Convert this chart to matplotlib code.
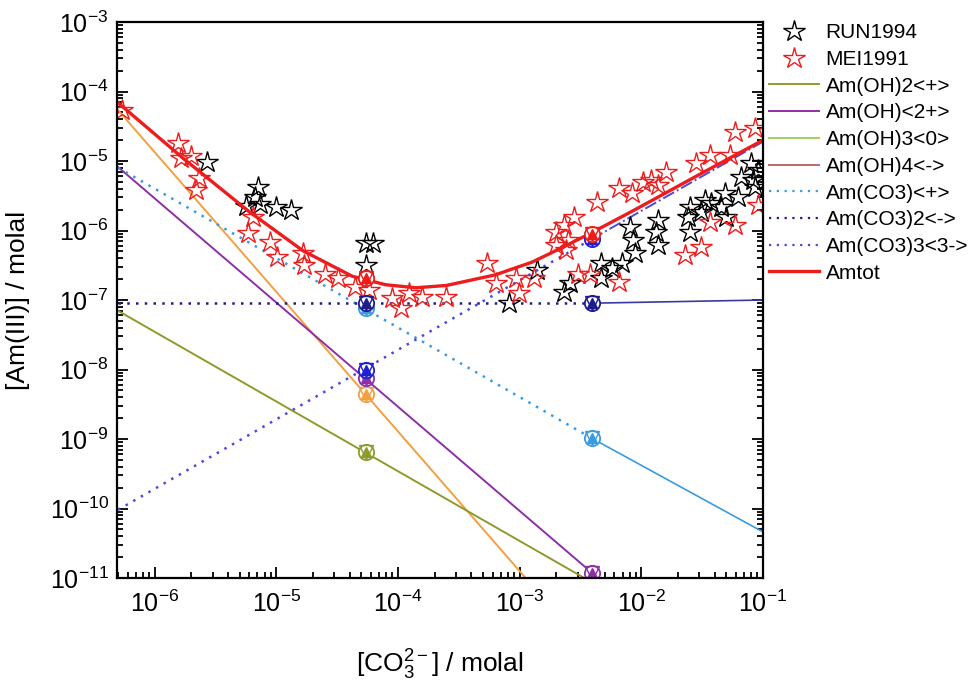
import numpy as np
import matplotlib.pyplot as plt
from matplotlib.lines import Line2D

plt.rcParams['font.family'] = ['Liberation Sans', 'DejaVu Sans']
plt.rcParams['mathtext.fontset'] = 'custom'
plt.rcParams['mathtext.rm'] = 'Liberation Sans'
plt.rcParams['mathtext.it'] = 'Liberation Sans'

# measured data, RUN1994 (black stars)
run_x = [2.7e-6, 7.1e-6, 6.7e-6, 5.6e-6, 7.3e-6, 1.0e-5, 1.33e-5,
         5.5e-5, 6.2e-5, 5.5e-5,
         8.1e-4, 1.38e-3, 2.3e-3, 2.6e-3, 4.7e-3, 4.7e-3, 5.7e-3, 6.9e-3,
         8.1e-3, 8.6e-3, 8.9e-3, 1.33e-2, 1.38e-2, 1.38e-2, 2.5e-2, 2.4e-2,
         2.5e-2, 3.35e-2, 3.1e-2, 3.75e-2, 4.9e-2, 4.5e-2, 5.0e-2, 6.2e-2,
         6.6e-2, 8.0e-2, 8.3e-2, 8.6e-2, 9.1e-2]
run_y = [9.8e-6, 4.2e-6, 3.0e-6, 2.25e-6, 2.4e-6, 2.2e-6, 2.0e-6,
         6.6e-7, 6.6e-7, 3.2e-7,
         9.1e-8, 2.7e-7, 1.3e-7, 1.76e-7, 3.4e-7, 2.1e-7, 2.9e-7, 3.4e-7,
         1.12e-6, 7.3e-7, 4.7e-7, 9.5e-7, 1.42e-6, 6.2e-7, 2.2e-6, 1.56e-6,
         9.5e-7, 2.75e-6, 1.85e-6, 2.5e-6, 3.5e-6, 2.2e-6, 1.56e-6, 3.0e-6,
         5.9e-6, 9.4e-6, 5.3e-6, 4.2e-6, 7.4e-6]

# measured data, MEI1991 (red stars)
mei_x = [5.4e-7, 1.57e-6, 1.66e-6, 2.0e-6, 2.3e-6, 2.2e-6, 6.4e-6, 5.9e-6,
         8.8e-6, 1.02e-5, 1.66e-5, 1.7e-5, 2.5e-5, 3.2e-5, 4.4e-5, 5.8e-5,
         8.9e-5, 1.06e-4, 1.23e-4, 1.57e-4, 2.5e-4, 5.4e-4, 6.4e-4, 9.3e-4,
         9.8e-4, 1.3e-3, 1.97e-3, 2.3e-3, 2.8e-3, 2.0e-3, 2.5e-3, 2.4e-3,
         4.3e-3, 6.5e-3, 8.3e-3, 1.04e-2, 1.19e-2, 1.38e-2, 1.6e-2, 2.8e-2,
         3.7e-2, 5.4e-2, 5.9e-2, 8.6e-2, 9.1e-2, 3.7e-2, 5.9e-2, 2.3e-2,
         3.1e-2, 6.5e-3, 3.0e-3, 3.8e-3]
mei_y = [5.4e-5, 1.8e-5, 1.1e-5, 1.18e-5, 5.7e-6, 3.8e-6, 1.56e-6, 9.2e-7,
         6.8e-7, 4.2e-7, 4.7e-7, 3.2e-7, 2.4e-7, 2.1e-7, 1.54e-7, 1.39e-7,
         1.07e-7, 7.7e-8, 1.26e-7, 1.1e-7, 1.1e-7, 3.4e-7, 1.76e-7, 2.1e-7,
         1.26e-7, 2.1e-7, 9.5e-7, 1.2e-6, 1.56e-6, 6.2e-7, 7.3e-7, 5.2e-7,
         2.6e-6, 4.1e-6, 3.5e-6, 5.0e-6, 5.3e-6, 4.5e-6, 6.9e-6, 9.4e-6,
         1.22e-5, 1.22e-5, 2.6e-5, 3.0e-5, 2.3e-6, 1.32e-6, 1.2e-6, 4.4e-7,
         5.8e-7, 1.8e-7, 2.4e-7, 2.4e-7]

# model species lines
am3_x = [5e-7, 1.12e-3]
am3_y = [5.4e-5, 1e-11]
amoh2_x = [5e-7, 3.4e-3]
amoh2_y = [7e-8, 1e-11]
amoh_x = [5e-7, 3.9e-3]
amoh_y = [8.2e-6, 1.2e-11]
amco3_x = [5e-7, 3.9e-3, 1e-1]
amco3_y = [8e-6, 1.03e-9, 4.6e-11]
amco32_x = [5e-7, 3.9e-3, 1e-1]
amco32_y = [9e-8, 9e-8, 1e-7]
amco33_x = [5e-7, 3.9e-3, 1e-1]
amco33_y = [9.6e-11, 7.5e-7, 1.9e-5]
amtot_x = [4.9e-7, 1.74e-6, 6.0e-6, 1.66e-5, 4.2e-5, 7.9e-5, 1.4e-4,
           2.5e-4, 6.3e-4, 1.26e-3, 2.2e-3, 3.9e-3, 8.9e-3, 3.2e-2, 1e-1]
amtot_y = [7.1e-5, 1.07e-5, 1.86e-6, 5.1e-7, 2.2e-7, 1.66e-7, 1.5e-7,
           1.62e-7, 2.3e-7, 3.5e-7, 5.6e-7, 9.3e-7, 2.0e-6, 6.8e-6, 2.0e-5]

# model points at two carbonate concentrations
pt_x = [5.5e-5, 3.9e-3]
pt_amtot = [2.07e-7, 9.0e-7]
pt_amco33 = [1.0e-8, 7.5e-7]
pt_amco32 = [9e-8, 9e-8]
pt_amco3 = [7.8e-8, 1.03e-9]
pt_amoh = [7.5e-9, 1.2e-11]
pt_am3 = [4.5e-9, None]
pt_amoh2 = [6.5e-10, None]

c_olive = '#8f9a2c'
c_purple = '#8e2fa6'
c_lgreen = '#a5d05a'
c_rose = '#b86a6a'
c_lblue = '#3a9be0'
c_navy = '#1c1c8c'
c_violet = '#4a4ae0'
c_red = '#ee1c1c'
c_orange = '#f2a040'

fig = plt.figure(figsize=(9.73, 6.81), dpi=100)
ax = fig.add_axes([0.1202, 0.1512, 0.664, 0.8165])

ax.plot(am3_x, am3_y, color=c_orange, lw=1.4)
ax.plot(amoh2_x, amoh2_y, color=c_olive, lw=1.4)
ax.plot(amoh_x, amoh_y, color=c_purple, lw=1.4)
ax.plot(amco3_x[:2], amco3_y[:2], color=c_lblue, lw=1.8, ls=(0, (1, 2.5)))
ax.plot(amco3_x[1:], amco3_y[1:], color=c_lblue, lw=1.2)
ax.plot(amco32_x[:2], amco32_y[:2], color=c_navy, lw=1.8, ls=(0, (1, 2.5)))
ax.plot(amco32_x[1:], amco32_y[1:], color='#3a3aa0', lw=1.2)
ax.plot(amco33_x[:2], amco33_y[:2], color=c_violet, lw=1.8, ls=(0, (1, 2.5)))
ax.plot(amco33_x[1:], amco33_y[1:], color=c_violet, lw=1.4, ls='-.')

star = dict(marker='*', ms=16, mfc='none', mew=1.0, ls='none')
ax.plot(run_x, run_y, mec='black', **star)
ax.plot(mei_x, mei_y, mec=c_red, **star)

ax.plot(amtot_x, amtot_y, color=c_red, lw=2.4)


def model_pts(x, y, c):
    xs = [a for a, b in zip(x, y) if b is not None]
    ys = [b for b in y if b is not None]
    ax.plot(xs, ys, 'o', ms=11, mfc='white', mec=c, mew=1.3)
    ax.plot(xs, ys, 'v', ms=10, mfc='none', mec=c, mew=1.0)
    ax.plot(xs, ys, '^', ms=7, mfc=c, mec=c)


model_pts(pt_x, pt_amoh2, c_olive)
model_pts(pt_x, pt_am3, c_orange)
model_pts(pt_x, pt_amoh, c_purple)
model_pts(pt_x, pt_amco3, c_lblue)
model_pts(pt_x, pt_amco32, c_navy)
model_pts(pt_x, pt_amco33, '#2020d0')
model_pts(pt_x, pt_amtot, c_red)

ax.set_xscale('log')
ax.set_yscale('log')
ax.set_xlim(4.9e-7, 1e-1)
ax.set_ylim(1e-11, 1e-3)

ax.tick_params(which='both', direction='in', left=True, right=True,
               bottom=True, top=False, labelsize=18, width=1.3)
ax.tick_params(which='major', length=8)
ax.tick_params(which='minor', length=4)
ax.tick_params(axis='x', which='major', pad=9)
ax.tick_params(axis='y', which='major', pad=6)
for s in ax.spines.values():
    s.set_linewidth(1.6)

ax.set_xlabel(r'[CO$_3^{2-}$] / molal', fontsize=19, labelpad=22)
ax.set_ylabel('[Am(III)] / molal', fontsize=19, labelpad=14)

handles = [
    Line2D([], [], marker='*', ms=16, mfc='none', mec='black', ls='none'),
    Line2D([], [], marker='*', ms=16, mfc='none', mec=c_red, ls='none'),
    Line2D([], [], color=c_olive, lw=1.4),
    Line2D([], [], color=c_purple, lw=1.4),
    Line2D([], [], color=c_lgreen, lw=1.4),
    Line2D([], [], color=c_rose, lw=1.4),
    Line2D([], [], color=c_lblue, lw=1.6, ls=(0, (1, 2.5))),
    Line2D([], [], color=c_navy, lw=1.6, ls=(0, (1, 2.5))),
    Line2D([], [], color=c_violet, lw=1.6, ls=(0, (1, 2.5))),
    Line2D([], [], color=c_red, lw=2.4),
]
labels = ['RUN1994', 'MEI1991', 'Am(OH)2<+>', 'Am(OH)<2+>', 'Am(OH)3<0>',
          'Am(OH)4<->', 'Am(CO3)<+>', 'Am(CO3)2<->', 'Am(CO3)3<3->', 'Amtot']
fig.legend(handles, labels, loc='upper left', bbox_to_anchor=(0.782, 0.978),
           frameon=False, fontsize=15, handlelength=2.4, handletextpad=0.3,
           labelspacing=0.37, borderaxespad=0)

fig.savefig('out.png', dpi=100)
